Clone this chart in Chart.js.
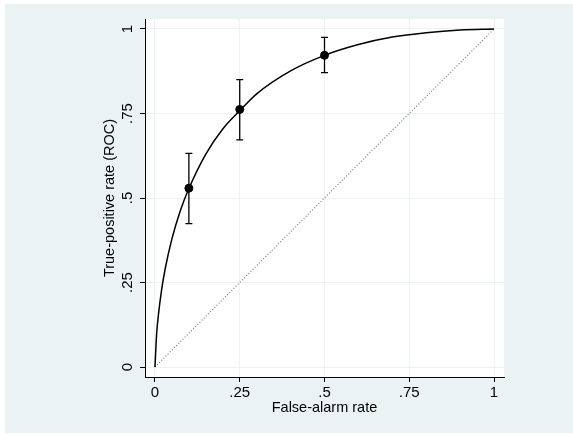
<!DOCTYPE html>
<html>
<head>
<meta charset="utf-8">
<script src="https://cdn.jsdelivr.net/npm/chart.js@4"></script>
<style>
  html, body { margin: 0; padding: 0; background: #fff; }
  #wrap { position: absolute; left: 5px; top: 4px; width: 568px; height: 429px; background: #eaf2f3; }
</style>
</head>
<body>
<div id="wrap"><canvas id="roc" width="568" height="429"></canvas></div>
<script>
// fitted ROC curve
const curveFpr = [0, 0.005, 0.01, 0.02, 0.03, 0.05, 0.075, 0.1, 0.15, 0.2, 0.25, 0.3, 0.4, 0.5, 0.6, 0.7, 0.8, 0.9, 1];
const curveTpr = [0, 0.099, 0.153, 0.231, 0.29, 0.379, 0.463, 0.528, 0.63, 0.704, 0.758, 0.808, 0.876, 0.922, 0.954, 0.976, 0.989, 0.997, 1];

// observed operating points with error bars
const pointFpr = [0.1, 0.25, 0.5];
const pointTpr = [0.529, 0.762, 0.922];
const pointLow = [0.424, 0.672, 0.871];
const pointHigh = [0.632, 0.85, 0.975];

// chance line
const diagFpr = [0, 1];
const diagTpr = [0, 1];

const tickValues = [0, 0.25, 0.5, 0.75, 1];

const fmt = v => v === 0 ? '0' : v === 1 ? '1' : String(v).replace(/^0/, '');

const plotBg = {
  id: 'plotBg',
  beforeDraw(chart) {
    const { ctx, chartArea: a } = chart;
    ctx.save();
    ctx.fillStyle = '#fff';
    ctx.fillRect(a.left, a.top, a.right - a.left, a.bottom - a.top);
    ctx.restore();
  }
};

const errorBars = {
  id: 'errorBars',
  afterDatasetsDraw(chart) {
    const { ctx, scales: { x, y } } = chart;
    ctx.save();
    ctx.strokeStyle = '#000';
    ctx.lineWidth = 1.3;
    pointFpr.forEach((f, i) => {
      const px = x.getPixelForValue(f);
      const lo = y.getPixelForValue(pointLow[i]);
      const hi = y.getPixelForValue(pointHigh[i]);
      ctx.beginPath();
      ctx.moveTo(px, lo); ctx.lineTo(px, hi);
      ctx.moveTo(px - 3.5, lo); ctx.lineTo(px + 3.5, lo);
      ctx.moveTo(px - 3.5, hi); ctx.lineTo(px + 3.5, hi);
      ctx.stroke();
    });
    ctx.restore();
  }
};

const axisFont = { family: "'Liberation Sans', Arial, Helvetica, sans-serif", size: 14.5 };
const tickFont = { family: "'Liberation Sans', Arial, Helvetica, sans-serif", size: 15 };

new Chart(document.getElementById('roc'), {
  type: 'scatter',
  data: {
    datasets: [
      {
        data: diagFpr.map((v, i) => ({ x: v, y: diagTpr[i] })),
        showLine: true,
        borderColor: '#6f6f6f',
        borderWidth: 1.1,
        borderDash: [1, 2],
        pointRadius: 0,
        order: 3
      },
      {
        data: curveFpr.map((v, i) => ({ x: v, y: curveTpr[i] })),
        showLine: true,
        borderColor: '#000',
        borderWidth: 1.5,
        cubicInterpolationMode: 'monotone',
        pointRadius: 0,
        order: 2
      },
      {
        data: pointFpr.map((v, i) => ({ x: v, y: pointTpr[i] })),
        showLine: false,
        backgroundColor: '#000',
        borderColor: '#000',
        pointRadius: 4,
        order: 1
      }
    ]
  },
  options: {
    responsive: false,
    animation: false,
    layout: { padding: { left: 96, top: 15, right: 69, bottom: 16 } },
    plugins: { legend: { display: false }, tooltip: { enabled: false } },
    scales: {
      x: {
        type: 'linear',
        min: -0.0294,
        max: 1.0294,
        afterBuildTicks: s => { s.ticks = tickValues.map(v => ({ value: v })); },
        afterFit: s => { s.height = 40; },
        grid: { color: '#eaf2f3', lineWidth: 1, tickColor: '#000', tickLength: 5 },
        border: { color: '#000', width: 1 },
        ticks: { color: '#000', font: tickFont, padding: 2, maxRotation: 0, callback: v => fmt(v) },
        title: { display: true, text: 'False-alarm rate', color: '#000', font: axisFont, padding: { top: 0, bottom: 0 } }
      },
      y: {
        type: 'linear',
        min: -0.0295,
        max: 1.0295,
        afterBuildTicks: s => { s.ticks = tickValues.map(v => ({ value: v })); },
        afterFit: s => { s.width = 44; },
        grid: { color: '#eaf2f3', lineWidth: 1, tickColor: '#000', tickLength: 5 },
        border: { color: '#000', width: 1 },
        ticks: { color: '#000', font: tickFont, padding: 2, minRotation: 90, maxRotation: 90, crossAlign: 'center', callback: v => fmt(v) },
        title: { display: true, text: 'True-positive rate (ROC)', color: '#000', font: axisFont, padding: { top: 0, bottom: 0 } }
      }
    }
  },
  plugins: [plotBg, errorBars]
});
</script>
</body>
</html>
